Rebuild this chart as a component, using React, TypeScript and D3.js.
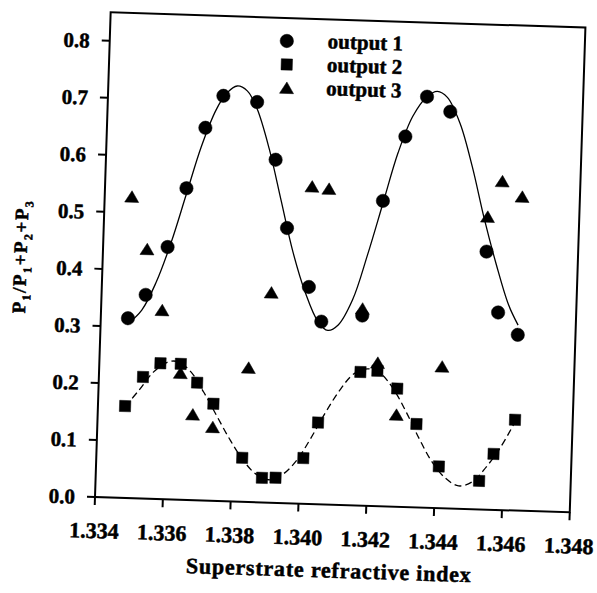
import * as d3 from "d3";

// tick values
const xTicks = [1.334, 1.336, 1.338, 1.34, 1.342, 1.344, 1.346, 1.348];
const yTicks = [0, 0.1, 0.2, 0.3, 0.4, 0.5, 0.6, 0.7, 0.8];

// output 1 (circles)
const out1X = [1.3348, 1.3353, 1.3359, 1.3364, 1.3369, 1.3374, 1.3384, 1.339, 1.3394, 1.3401, 1.3405, 1.3417, 1.3422, 1.3428, 1.3434, 1.3441, 1.3453, 1.3457, 1.3463];
const out1Y = [0.315, 0.357, 0.442, 0.546, 0.653, 0.71, 0.701, 0.601, 0.482, 0.38, 0.32, 0.333, 0.535, 0.649, 0.72, 0.695, 0.452, 0.346, 0.308];

// output 2 (squares)
const out2X = [1.3348, 1.3353, 1.3358, 1.3364, 1.3369, 1.3374, 1.3383, 1.3389, 1.3393, 1.3401, 1.3405, 1.3417, 1.3422, 1.3428, 1.3434, 1.3441, 1.3453, 1.3457, 1.3463];
const out2Y = [0.161, 0.213, 0.238, 0.238, 0.206, 0.17, 0.077, 0.043, 0.044, 0.08, 0.143, 0.234, 0.237, 0.207, 0.146, 0.073, 0.05, 0.098, 0.159];

// output 3 (triangles)
const out3X = [1.3348, 1.3353, 1.3358, 1.3364, 1.3368, 1.3374, 1.3384, 1.339, 1.3401, 1.3406, 1.3417, 1.3422, 1.3428, 1.3441, 1.3453, 1.3457, 1.3463];
const out3Y = [0.528, 0.437, 0.331, 0.222, 0.15, 0.129, 0.235, 0.368, 0.556, 0.553, 0.345, 0.251, 0.161, 0.248, 0.513, 0.576, 0.55];

// fitted curves
const fit1X = [1.3348, 1.3352, 1.3356, 1.336, 1.3364, 1.3368, 1.3372, 1.3375, 1.3378, 1.3381, 1.3384, 1.3388, 1.3392, 1.3396, 1.34, 1.3404, 1.3407, 1.341, 1.3414, 1.3418, 1.3422, 1.3426, 1.343, 1.3434, 1.3437, 1.344, 1.3444, 1.3448, 1.3452, 1.3456, 1.346, 1.3463];
const fit1Y = [0.305, 0.33, 0.38, 0.45, 0.535, 0.62, 0.685, 0.715, 0.728, 0.72, 0.69, 0.62, 0.53, 0.44, 0.37, 0.32, 0.305, 0.315, 0.36, 0.44, 0.53, 0.62, 0.685, 0.72, 0.73, 0.72, 0.675, 0.6, 0.51, 0.43, 0.36, 0.325];

const fit2X = [1.3348, 1.3352, 1.3356, 1.336, 1.3363, 1.3367, 1.3371, 1.3375, 1.3379, 1.3383, 1.3387, 1.3391, 1.3395, 1.3399, 1.3403, 1.3407, 1.3411, 1.3415, 1.3419, 1.3423, 1.3427, 1.3431, 1.3435, 1.3439, 1.3443, 1.3447, 1.3451, 1.3455, 1.3459, 1.3463];
const fit2Y = [0.16, 0.19, 0.222, 0.24, 0.242, 0.225, 0.19, 0.15, 0.11, 0.075, 0.05, 0.04, 0.05, 0.075, 0.115, 0.16, 0.2, 0.23, 0.24, 0.232, 0.205, 0.165, 0.12, 0.08, 0.053, 0.04, 0.048, 0.075, 0.11, 0.155];

const legendLabels = ["output 1", "output 2", "output 3"];

const FONT = "'Liberation Serif', 'Times New Roman', serif";

const zip = (xs: number[], ys: number[]) => xs.map((v, i) => [v, ys[i]] as [number, number]);

function Marker({ kind, cx, cy }: { kind: string; cx: number; cy: number }) {
  if (kind === "circle") return <circle cx={cx} cy={cy} r={6.7} fill="#000" />;
  if (kind === "square") return <rect x={cx - 5.6} y={cy - 5.6} width={11.2} height={11.2} fill="#000" />;
  return <path d={`M${cx},${cy - 6}L${cx + 7},${cy + 5.5}L${cx - 7},${cy + 5.5}Z`} fill="#000" />;
}

export default function App() {
  const width = 597;
  const height = 593;
  const plotW = 475;
  const plotH = 485;

  const x = d3.scaleLinear().domain([1.334, 1.348]).range([0, plotW]);
  const y = d3.scaleLinear().domain([0, 0.85]).range([plotH, 0]);

  const line = d3
    .line<[number, number]>()
    .x((d) => x(d[0]))
    .y((d) => y(d[1]))
    .curve(d3.curveCatmullRom);

  const series = [
    { kind: "circle", pts: zip(out1X, out1Y) },
    { kind: "square", pts: zip(out2X, out2Y) },
    { kind: "triangle", pts: zip(out3X, out3Y) },
  ];

  return (
    <svg
      width={width}
      height={height}
      viewBox={`0 0 ${width} ${height}`}
      style={{ position: "absolute", left: 0, top: 0, background: "#fff" }}
    >
      <rect width={width} height={height} fill="#fff" />
      {/* the scanned figure is tilted a little */}
      <g
        transform={`translate(95,497) rotate(1.85) translate(0,${-plotH})`}
        fontFamily={FONT}
        fontWeight="bold"
        stroke="#000"
        strokeWidth={0.5}
      >
        <path d={line(zip(fit1X, fit1Y)) ?? ""} fill="none" stroke="#000" strokeWidth={1.3} />
        <path d={line(zip(fit2X, fit2Y)) ?? ""} fill="none" stroke="#000" strokeWidth={1.3} strokeDasharray="7 4" />

        {series.map((s) =>
          s.pts.map((p, i) => <Marker key={s.kind + i} kind={s.kind} cx={x(p[0])} cy={y(p[1])} />)
        )}

        <rect x={0} y={0} width={plotW} height={plotH} fill="none" stroke="#000" strokeWidth={2} />

        {yTicks.map((t) => (
          <g key={t} transform={`translate(0,${y(t)})`}>
            <line x1={-8} x2={0} stroke="#000" strokeWidth={2} />
            <text x={-20} dy="0.35em" textAnchor="end" fontSize={21}>
              {t.toFixed(1)}
            </text>
          </g>
        ))}

        {xTicks.map((t) => (
          <g key={t} transform={`translate(${x(t)},${plotH})`}>
            <line y1={0} y2={8} stroke="#000" strokeWidth={2} />
            <text y={41} textAnchor="middle" fontSize={22}>
              {t.toFixed(3)}
            </text>
          </g>
        ))}

        <text x={236} y={plotH + 73} textAnchor="middle" fontSize={22} letterSpacing={0.8}>
          Superstrate refractive index
        </text>

        <text transform={`translate(-76,247) rotate(-90)`} textAnchor="middle" fontSize={19} letterSpacing={1.5}>
          P<tspan fontSize={12} dy={5}>1</tspan>
          <tspan dy={-5}>/P</tspan>
          <tspan fontSize={12} dy={5}>1</tspan>
          <tspan dy={-5}>+P</tspan>
          <tspan fontSize={12} dy={5}>2</tspan>
          <tspan dy={-5}>+P</tspan>
          <tspan fontSize={12} dy={5}>3</tspan>
        </text>

        {legendLabels.map((label, i) => {
          const ly = 23 + i * 23.5;
          return (
            <g key={label}>
              <Marker kind={series[i].kind} cx={177 + i * 0.7} cy={ly} />
              <text x={218} y={ly + 6} fontSize={21}>
                {label}
              </text>
            </g>
          );
        })}
      </g>
    </svg>
  );
}
